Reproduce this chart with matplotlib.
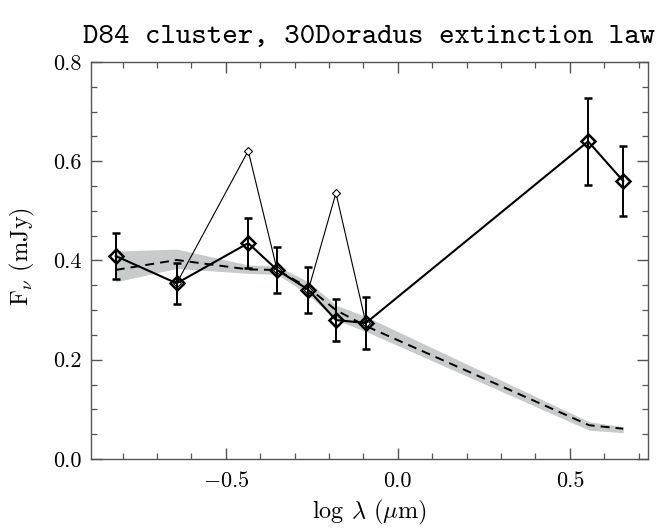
import matplotlib
matplotlib.use('Agg')
import matplotlib.pyplot as plt
from matplotlib.ticker import MultipleLocator

plt.rcParams['font.family'] = ['cmr10', 'DejaVu Serif']
plt.rcParams['mathtext.fontset'] = 'cm'
plt.rcParams['axes.formatter.use_mathtext'] = True

# observed fluxes (thick line, with errors)
log_lam = [-0.82, -0.643, -0.435, -0.351, -0.26, -0.18, -0.093, 0.553, 0.655]
flux = [0.409, 0.354, 0.435, 0.381, 0.341, 0.280, 0.274, 0.640, 0.560]
flux_err = [0.046, 0.041, 0.050, 0.046, 0.046, 0.043, 0.052, 0.088, 0.070]

# alternative photometry (thin line, small diamonds)
alt_lam = [-0.643, -0.435, -0.351, -0.26, -0.18, -0.093]
alt_flux = [0.354, 0.621, 0.381, 0.341, 0.536, 0.274]

# model (dashed) and its range (grey band)
model_lam = [-0.82, -0.643, -0.435, -0.351, -0.26, -0.18, -0.093, 0.556, 0.655]
model_flux = [0.381, 0.401, 0.382, 0.381, 0.345, 0.300, 0.268, 0.068, 0.061]
model_hi = [0.419, 0.423, 0.391, 0.389, 0.357, 0.310, 0.287, 0.075, 0.065]
model_lo = [0.357, 0.384, 0.374, 0.372, 0.331, 0.280, 0.257, 0.058, 0.053]

fig = plt.figure(figsize=(6.67, 5.28), dpi=100)
ax = fig.add_axes([0.1364, 0.1307, 0.8351, 0.7519])

ax.fill_between(model_lam, model_lo, model_hi, color='#c8cbcb', lw=0)
ax.plot(model_lam, model_flux, color='black', lw=1.4, dashes=(4.6, 3.1))

ax.plot(alt_lam, alt_flux, color='black', lw=0.8, marker='D', ms=4.2,
        mfc='white', mec='black', mew=0.8)
ax.errorbar(log_lam, flux, yerr=flux_err, color='black', lw=1.5,
            marker='D', ms=7.4, mfc='none', mec='black', mew=1.8,
            ecolor='black', elinewidth=1.4, capsize=3.2, capthick=1.2)

ax.set_xlim(-0.892, 0.727)
ax.set_ylim(0.0, 0.8)
ax.xaxis.set_major_locator(MultipleLocator(0.5))
ax.xaxis.set_minor_locator(MultipleLocator(0.1))
ax.yaxis.set_major_locator(MultipleLocator(0.2))
ax.yaxis.set_minor_locator(MultipleLocator(0.05))
ax.tick_params(which='both', direction='in', top=True, right=True,
               color='#555555', labelsize=16)
ax.tick_params(axis='x', pad=9)
ax.tick_params(axis='y', pad=7)
ax.tick_params(which='major', length=8, width=1.0)
ax.tick_params(which='minor', length=4.5, width=0.9)
ax.xaxis.set_major_formatter(plt.FuncFormatter(lambda v, p: ('$-$' if v < 0 else '') + '%.1f' % abs(v)))
ax.yaxis.set_major_formatter(plt.FuncFormatter(lambda v, p: '%.1f' % v))
for s in ax.spines.values():
    s.set_color('#555555')
    s.set_linewidth(1.0)

ax.set_xlabel(r'log $\lambda$ ($\mu$m)', fontsize=17.5)
ax.xaxis.set_label_coords(0.5, -0.097)
ax.xaxis.label.set_va('top')
ax.set_ylabel(r'F$_\nu$ (mJy)', fontsize=17.5)
ax.yaxis.set_label_coords(-0.097, 0.51)
ax.set_title('D84 cluster, 30Doradus extinction law', fontsize=21.2,
             family='cmtt10', pad=14)

fig.savefig('out.png', dpi=100)
